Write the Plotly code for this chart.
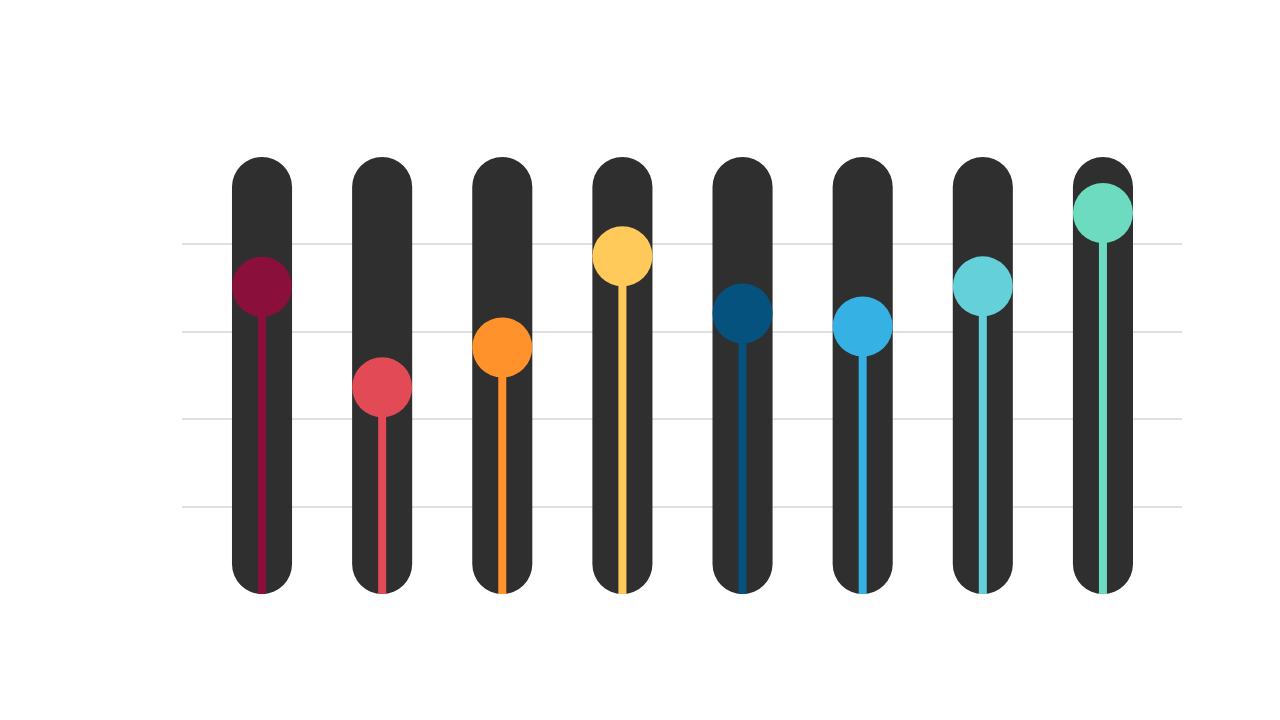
import plotly.graph_objects as go

categories = ["A", "B", "C", "D", "E", "F", "G", "H"]
values = [70.3, 47.3, 56.4, 77.3, 64.2, 61.2, 70.4, 87.2]
colors = ["#8B0F3B", "#E24A56", "#FF922B", "#FFCA5A", "#06527E", "#35B2E3", "#64D0D9", "#6CDBBF"]
track_max = 100
grid_ticks = [20, 40, 60, 80]

x_idx = list(range(len(categories)))
track_color = "#2F2F2F"

fig = go.Figure()

# Capsule track (explicit base so both ends get rounded)
fig.add_trace(go.Bar(x=x_idx, y=[track_max] * len(x_idx), base=[0] * len(x_idx),
                     width=0.5, marker=dict(color=track_color, cornerradius=30, line=dict(width=0)),
                     hoverinfo="skip", showlegend=False))

# Stems
fig.add_trace(go.Bar(x=x_idx, y=values, width=0.0667,
                     marker=dict(color=colors, cornerradius=0, line=dict(width=0)),
                     hoverinfo="skip", showlegend=False))

# Knobs
fig.add_trace(go.Scatter(x=x_idx, y=values, mode="markers",
                         marker=dict(size=60, color=colors, line=dict(width=0)),
                         cliponaxis=False, hovertext=categories, showlegend=False))

fig.update_layout(
    width=1264, height=704,
    margin=dict(l=174, r=90, t=149, b=118),
    paper_bgcolor="white", plot_bgcolor="white",
    barmode="overlay",
    xaxis=dict(range=[-0.666, 7.658], showgrid=False, zeroline=False,
               showticklabels=False, showline=False, ticks=""),
    yaxis=dict(range=[0, track_max], tickvals=grid_ticks, showticklabels=False,
               showgrid=True, gridcolor="#E0E0E0", gridwidth=2, zeroline=False,
               showline=False, ticks=""),
)

fig.write_html("out.html")
